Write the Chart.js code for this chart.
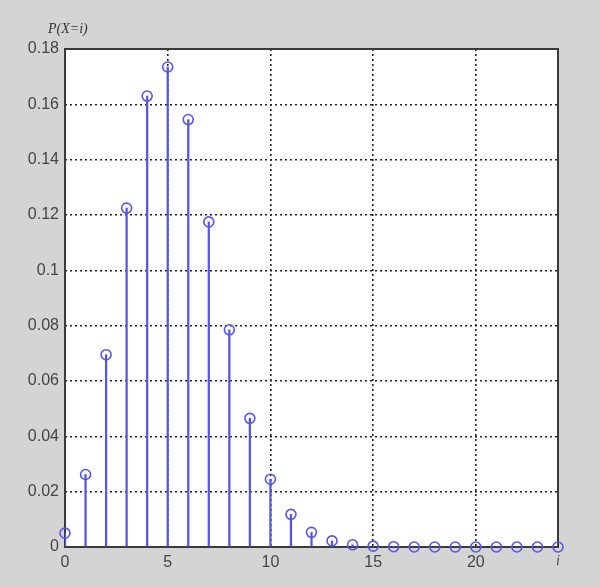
<!DOCTYPE html>
<html>
<head>
<meta charset="utf-8">
<script src="https://cdn.jsdelivr.net/npm/chart.js@4/dist/chart.umd.min.js"></script>
<style>
  html, body { margin: 0; padding: 0; background: #d4d4d4; }
  #wrap { width: 600px; height: 587px; }
</style>
</head>
<body>
<div id="wrap"><canvas id="stem" width="600" height="587"></canvas></div>
<script>
// values
const iValues = [0, 1, 2, 3, 4, 5, 6, 7, 8, 9, 10, 11, 12, 13, 14, 15, 16, 17, 18, 19, 20, 21, 22, 23, 24];
const probs = [0.005, 0.0262, 0.0695, 0.1225, 0.163, 0.1735, 0.1545, 0.1175, 0.0785, 0.0465, 0.0245,
  0.0118, 0.0053, 0.0022, 0.0008, 0.0003, 0.0001, 0, 0, 0, 0, 0, 0, 0, 0];
const xTicks = [0, 5, 10, 15, 20, 24];
const yTicks = [0, 0.02, 0.04, 0.06, 0.08, 0.1, 0.12, 0.14, 0.16, 0.18];

const points = iValues.map((x, k) => ({ x, y: probs[k] }));
const blue = '#5555ea';
const tickFont = { family: 'Arial, "Liberation Sans"', size: 16 };

// white plot area + frame + title text
const frame = {
  id: 'frame',
  beforeDraw(chart) {
    const { ctx, chartArea: a } = chart;
    ctx.save();
    ctx.fillStyle = '#fff';
    ctx.fillRect(a.left, a.top, a.right - a.left, a.bottom - a.top);
    ctx.restore();
  },
  beforeDatasetsDraw(chart) {
    const { ctx, chartArea: a } = chart;
    ctx.save();
    ctx.strokeStyle = '#3a3a3a';
    ctx.lineWidth = 2;
    ctx.strokeRect(a.left, a.top, a.right - a.left, a.bottom - a.top);
    ctx.restore();
  },
  afterDraw(chart) {
    const { ctx, chartArea: a } = chart;
    ctx.save();
    ctx.fillStyle = '#333';
    ctx.font = 'italic 14px "Times New Roman", "Liberation Serif", serif';
    ctx.textAlign = 'left';
    ctx.fillText('P(X=i)', a.left - 17, a.top - 16);
    ctx.restore();
  }
};

new Chart(document.getElementById('stem'), {
  type: 'bar',
  data: {
    datasets: [
      {
        type: 'scatter',
        data: points,
        clip: false,
        pointRadius: 5,
        pointBorderWidth: 1.6,
        pointBorderColor: blue,
        pointBackgroundColor: 'rgba(0,0,0,0)',
        order: 0
      },
      {
        type: 'bar',
        data: points,
        backgroundColor: blue,
        barThickness: 1.6,
        grouped: false,
        order: 1
      }
    ]
  },
  options: {
    responsive: false,
    animation: false,
    layout: { padding: { left: 0, top: 49, right: 42, bottom: 0 } },
    plugins: { legend: { display: false }, tooltip: { enabled: false } },
    scales: {
      x: {
        type: 'linear',
        min: 0,
        max: 24,
        offset: false,
        afterBuildTicks: (s) => { s.ticks = xTicks.map(v => ({ value: v })); },
        afterFit: (s) => { s.height = 40; },
        ticks: {
          color: '#444',
          padding: 6,
          maxRotation: 0,
          autoSkip: false,
          font: (c) => c.tick && c.tick.value === 24
            ? { family: '"Times New Roman", "Liberation Serif", serif', size: 14, style: 'italic' }
            : tickFont,
          callback: (v) => v === 24 ? 'i' : String(v)
        },
        grid: {
          offset: false,
          color: (c) => (c.tick && (c.tick.value === 0 || c.tick.value === 24)) ? 'rgba(0,0,0,0)' : '#222',
          lineWidth: 1.6,
          drawTicks: false
        },
        border: { display: false, dash: [2, 3] }
      },
      y: {
        min: 0,
        max: 0.18,
        afterBuildTicks: (s) => { s.ticks = yTicks.map(v => ({ value: v })); },
        afterFit: (s) => { s.width = 65; },
        ticks: {
          color: '#444',
          padding: 6,
          font: tickFont,
          callback: (v) => String(v)
        },
        grid: {
          color: (c) => (c.tick && (c.tick.value === 0 || c.tick.value === 0.18)) ? 'rgba(0,0,0,0)' : '#222',
          lineWidth: 1.6,
          drawTicks: false
        },
        border: { display: false, dash: [2, 3] }
      }
    }
  },
  plugins: [frame]
});
</script>
</body>
</html>
